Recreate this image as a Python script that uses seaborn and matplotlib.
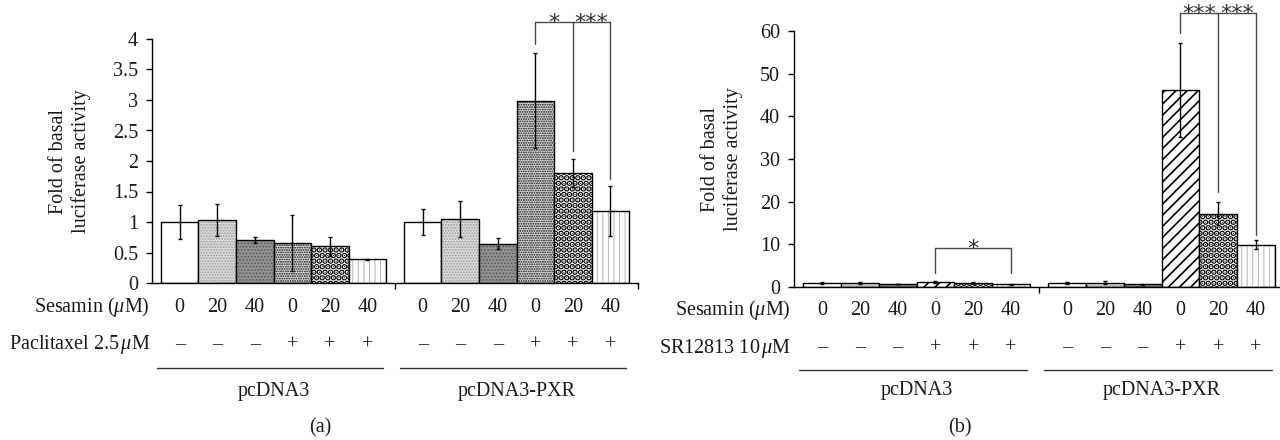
import matplotlib
matplotlib.use('Agg')
import matplotlib.pyplot as plt
import matplotlib.transforms as mtransforms
from matplotlib.colors import to_rgba
import pandas as pd
import seaborn as sns

# ---- data ----
groups = ['pcDNA3', 'pcDNA3-PXR']
conds = ['c1', 'c2', 'c3', 'c4', 'c5', 'c6']
sesamin_labels = ['0', '20', '40', '0', '20', '40']
drug_labels = ['\u2013', '\u2013', '\u2013', '+', '+', '+']

a_pcdna3 = [1.00, 1.03, 0.71, 0.65, 0.60, 0.39]
a_pcdna3_err = [0.28, 0.26, 0.05, 0.46, 0.15, 0.01]
a_pxr = [1.00, 1.05, 0.64, 2.99, 1.81, 1.18]
a_pxr_err = [0.21, 0.29, 0.09, 0.78, 0.23, 0.41]

b_pcdna3 = [1.0, 1.0, 0.7, 1.1, 1.0, 0.6]
b_pcdna3_err = [0.25, 0.2, 0.1, 0.2, 0.2, 0.1]
b_pxr = [1.0, 1.0, 0.6, 46.2, 17.2, 9.9]
b_pxr_err = [0.25, 0.3, 0.1, 11.0, 2.7, 1.0]

# ---- style ----
sns.set_theme(style='ticks')
plt.rcParams['font.family'] = ['Liberation Serif', 'DejaVu Serif']
plt.rcParams['mathtext.fontset'] = 'custom'
plt.rcParams['mathtext.rm'] = 'Liberation Serif'
plt.rcParams['mathtext.it'] = 'Liberation Serif:italic'
plt.rcParams['hatch.linewidth'] = 0.8
FS = 14.5
TXT = '#1a1a1a'

styles_a = [
    dict(fc='white', hatch=None),
    dict(fc='#d8d8d8', hatch='......', hc='#9c9c9c'),
    dict(fc='#909090', hatch='.....', hc='#5c5c5c'),
    dict(fc='#dcdcdc', hatch='.......', hc='#101010', hlw=0.9),
    dict(fc='white', hatch='...', hc='black', hlw=3.0),
    dict(fc='white', hatch='|||', hc='#b4b4b4', hlw=0.7),
]
styles_b = list(styles_a)
styles_b[3] = dict(fc='white', hatch='///', hc='black', hlw=1.2)

fig = plt.figure(figsize=(12.8, 4.4), dpi=100)
ax_a = fig.add_axes([152 / 1280, 1 - 283 / 440, 486 / 1280, 244 / 440])
ax_b = fig.add_axes([794 / 1280, 1 - 287 / 440, 490 / 1280, 256 / 440])

# vertical pixel rows under each panel: sesamin, drug, rule, group, letter
rows_a = [307, 345, 368, 391, 428]
rows_b = [310, 348, 370, 390, 428]


def fy(px):
    return 1 - px / 440


def draw_panel(ax, pc, pc_err, pxr, pxr_err, styles, ymax, ystep, rows,
               drug_text, label_right_px, panel_letter, panel_x, ylab_x):
    df = pd.DataFrame({
        'group': [groups[0]] * 6 + [groups[1]] * 6,
        'cond': conds * 2,
        'value': pc + pxr,
    })
    sns.barplot(data=df, x='group', y='value', hue='cond', order=groups,
                hue_order=conds, width=0.926, gap=0, dodge=True,
                errorbar=None, legend=False, ax=ax, color='white',
                edgecolor='black', linewidth=1.0, zorder=2)

    bars = sorted(ax.patches, key=lambda p: p.get_x())
    for i, p in enumerate(bars):
        st = styles[i % 6]
        p.set_facecolor(st['fc'])
        p.set_edgecolor('black')
        if st['hatch']:
            p.set_hatch(st['hatch'])
            if hasattr(p, 'set_hatchcolor'):
                p.set_hatchcolor(st['hc'])
            else:
                p._hatch_color = to_rgba(st['hc'])
            hlw = st.get('hlw', 0.8)
            if hasattr(p, 'set_hatch_linewidth'):
                p.set_hatch_linewidth(hlw)
            else:
                p._hatch_linewidth = hlw

    xs = [p.get_x() + p.get_width() / 2 for p in bars]
    vals = pc + pxr
    errs = pc_err + pxr_err
    ax.errorbar(xs, vals, yerr=errs, fmt='none', ecolor='black',
                elinewidth=1.0, capsize=1.5, capthick=1.0, zorder=3)

    ax.set_xlim(-0.5, 1.5)
    ax.set_ylim(0, ymax)
    nt = int(round(ymax / ystep)) + 1
    ax.set_yticks([ystep * k for k in range(nt)])
    ax.set_yticklabels(['{:g}'.format(ystep * k) for k in range(nt)])
    ax.set_xticks([0.5, 1.5])
    ax.set_xticklabels(['', ''])
    ax.set_xlabel('')
    ax.tick_params(axis='both', direction='out', length=4, width=1.0,
                   color='black', labelsize=FS, labelcolor=TXT, pad=6)
    for s in ['left', 'bottom']:
        ax.spines[s].set_color('black')
        ax.spines[s].set_linewidth(1.0)
    sns.despine(ax=ax)

    ax.set_ylabel('Fold of basal\nluciferase activity', fontsize=FS,
                  color=TXT, linespacing=1.2)
    ax.yaxis.set_label_coords(ylab_x, 0.5)

    # table rows under the axis
    tr = mtransforms.blended_transform_factory(ax.transData, fig.transFigure)
    for i, x in enumerate(xs):
        ax.text(x, fy(rows[0]), sesamin_labels[i % 6], transform=tr,
                ha='center', va='center', fontsize=FS, color=TXT)
        ax.text(x, fy(rows[1]), drug_labels[i % 6], transform=tr,
                ha='center', va='center', fontsize=FS, color=TXT)
    fig.text(label_right_px / 1280, fy(rows[0]), r'Sesamin ($\mu$M)',
             ha='right', va='center', fontsize=FS, color=TXT)
    fig.text(label_right_px / 1280, fy(rows[1]), drug_text,
             ha='right', va='center', fontsize=FS, color=TXT)
    for g in range(2):
        ax.plot([g - 0.48, g + 0.45], [fy(rows[2])] * 2, transform=tr,
                color='#333333', lw=1.0, clip_on=False)
        ax.text(g, fy(rows[3]), groups[g], transform=tr, ha='center',
                va='center', fontsize=FS, color=TXT)
    fig.text(panel_x / 1280, fy(rows[4]), panel_letter, ha='center',
             va='center', fontsize=FS, color=TXT)
    return xs


def bracket(ax, xs, top, drops, stars):
    lc = '#4a4a4a'
    ax.plot([xs[0], xs[-1]], [top, top], color=lc, lw=1.0, clip_on=False, zorder=4)
    for x, d in zip(xs, drops):
        ax.plot([x, x], [top, d], color=lc, lw=1.0, clip_on=False, zorder=4)
    for (x, s) in stars:
        ax.annotate(s, xy=(x, top), xytext=(0, -5), textcoords='offset points',
                    ha='center', va='baseline', fontsize=16, color='#333333',
                    family='DejaVu Sans', annotation_clip=False)


xs_a = draw_panel(ax_a, a_pcdna3, a_pcdna3_err, a_pxr, a_pxr_err, styles_a,
                  4, 0.5, rows_a, r'Paclitaxel 2.5$\,\mu$M', 150, '(a)', 320,
                  -0.1255)
xs_b = draw_panel(ax_b, b_pcdna3, b_pcdna3_err, b_pxr, b_pxr_err, styles_b,
                  60, 10, rows_b, r'SR12813 10$\,\mu$M', 791, '(b)', 960,
                  -0.104)

bracket(ax_a, xs_a[9:12], 4.28, [3.92, 2.17, 1.70],
        [((xs_a[9] + xs_a[10]) / 2, '*'), ((xs_a[10] + xs_a[11]) / 2, '***')])
bracket(ax_b, xs_b[9:12], 64.3, [59.5, 22.2, 12.1],
        [((xs_b[9] + xs_b[10]) / 2, '***'), ((xs_b[10] + xs_b[11]) / 2, '***')])
bracket(ax_b, [xs_b[3], xs_b[5]], 9.15, [3.3, 3.3],
        [((xs_b[3] + xs_b[5]) / 2, '*')])

fig.savefig('out.png', dpi=100)
